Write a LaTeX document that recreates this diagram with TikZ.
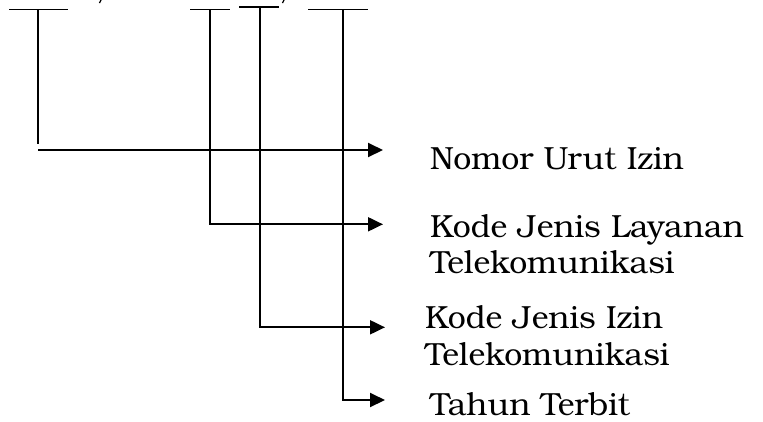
\documentclass[tikz,border=0pt]{standalone}
\usepackage{fontspec}
\setmainfont{TeX Gyre Bonum}
\usetikzlibrary{arrows.meta}

\tikzset{
  lbl/.style={anchor=base west, inner sep=0pt,
    font=\fontsize{32bp}{36bp}\selectfont},
  feed/.style={line width=2bp, -{Triangle[length=15bp, width=14bp]}}
}

\begin{document}
\begin{tikzpicture}[x=1bp, y=-1bp]
			%%%%% START %%%%%
			\useasboundingbox (0, 0) rectangle (763, 421);
			
			% blanks of the number, with the slashes between them
			\draw[line width=1.6bp] (9, 9.3) -- (68, 9.3);
			\draw[line width=1.6bp] (190, 9.3) -- (230, 9.3);
			\draw[line width=1.6bp] (239, 7) -- (279, 7);
			\draw[line width=1.6bp] (308, 9.3) -- (368, 9.3);
			\draw[line width=1.2bp] (101.5, -1) -- (99.5, 3);
			\draw[line width=1.2bp] (284.5, -1) -- (282.5, 3);
			
			% tops of the leaders
			\coordinate (urut) at (38, 9.3);
			\coordinate (layanan) at (210, 9.3);
			\coordinate (izin) at (260, 7);
			\coordinate (tahun) at (343, 9.3);
			
			% texts
			\node[lbl] (nomor) at (430, 169) {Nomor Urut Izin};
			\node[lbl] (kodeL) at (430, 237) {Kode Jenis Layanan};
			\node[lbl] (kodeLb) at (430, 273) {Telekomunikasi};
			\node[lbl] (kodeI) at (425, 328) {Kode Jenis Izin};
			\node[lbl] (kodeIb) at (425, 365) {Telekomunikasi};
			\node[lbl, text depth=0pt] (terbit) at (430, 415) {Tahun Terbit};
			
			% arrow ends
			\coordinate (e1) at (383, 150);
			\coordinate (e2) at (383, 224.3);
			\coordinate (e3) at (385, 327.3);
			\coordinate (e4) at (385, 400);
			
			\draw[line width=1.8bp] (urut) -- (38, 144);
			\draw[feed] (38, 150) -- (e1);
			\draw[feed] (layanan) |- (e2);
			\draw[feed] (izin) |- (e3);
			\draw[feed] (tahun) |- (e4);
			
			%%%%% END %%%%%
\end{tikzpicture}
\end{document}
